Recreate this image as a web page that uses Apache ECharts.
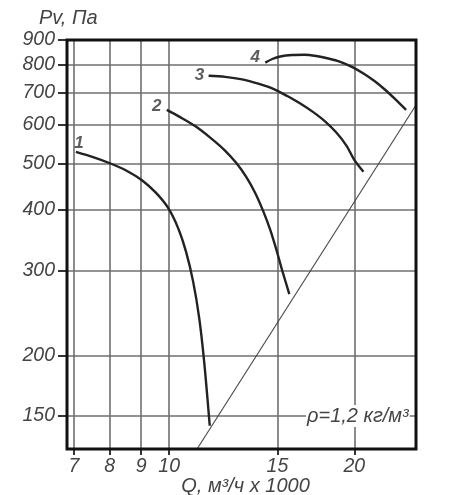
<!DOCTYPE html>
<html><head><meta charset="utf-8">
<script src="https://cdn.jsdelivr.net/npm/echarts@6/dist/echarts.min.js"></script>
<style>html,body{margin:0;padding:0;background:#fff}#c{width:451px;height:495px}</style>
</head><body><div id="c"></div>
<script>
const xTicks = [7, 8, 9, 10, 15, 20];
const yTicks = [150, 200, 300, 400, 500, 600, 700, 800, 900];
const curve1 = [[7.05,528],[7.52,515],[8.01,500],[8.54,482],[9.03,461],[9.52,434],[9.96,404],[10.34,367],[10.65,328],[10.94,284],[11.19,239],[11.40,194],[11.64,143]];
const curve2 = [[9.91,645],[10.42,623],[11.02,597],[11.66,565],[12.29,533],[12.85,501],[13.35,468],[13.80,434],[14.22,398],[14.60,364],[14.94,331],[15.28,299],[15.68,268]];
const curve3 = [[11.59,759],[12.33,755],[13.14,746],[13.96,731],[14.77,713],[15.56,689],[16.34,665],[17.15,638],[17.94,610],[18.70,579],[19.42,544],[20.0,508],[20.70,480]];
const curve4 = [[14.33,808],[14.71,822],[15.16,832],[15.85,838],[16.59,839],[17.34,834],[18.15,824],[18.98,811],[19.86,791],[20.70,767],[21.57,740],[22.47,709],[23.33,678],[24.28,645]];
const systemLine = [[11.1,128],[25.2,660]];
const curveNames = ['1','2','3','4'];

const font = 'Liberation Sans, Arial, sans-serif';
function curveSeries(data) {
  return {
    type: 'line', data: data,
    smooth: 0.3, symbol: 'none', showSymbol: false,
    lineStyle: {color: '#222', width: 2.4}, z: 5
  };
}
function labelSeries(data, name, offset) {
  return {
    type: 'scatter', data: [data[0]], symbolSize: 1, itemStyle: {color: 'rgba(0,0,0,0)'}, z: 6,
    label: {show: true, formatter: name, position: 'inside', offset: offset,
      fontFamily: font, fontStyle: 'italic', fontWeight: 'bold', fontSize: 17, color: '#333'}
  };
}
const chart = echarts.init(document.getElementById('c'));
chart.setOption({
  animation: false,
  backgroundColor: '#fff',
  grid: {left: 67, right: 35, top: 40, bottom: 46, outerBoundsMode: 'none', containLabel: false,
    show: true, borderColor: '#111', borderWidth: 3, backgroundColor: 'transparent', z: 10},
  xAxis: {
    type: 'log', min: 6.82, max: 25.2, logBase: 10,
    axisLine: {show: false},
    axisTick: {show: true, customValues: xTicks, length: 6, inside: false, lineStyle: {color: '#333', width: 2}},
    axisLabel: {customValues: xTicks, margin: 8, fontFamily: font, fontStyle: 'italic', fontSize: 19.5, color: '#444'},
    splitLine: {show: true, lineStyle: {color: '#6f6f6f', width: 1.6}},
    minorTick: {show: false}, minorSplitLine: {show: false},
    name: 'Q, м³/ч x 1000', nameLocation: 'middle', nameGap: 27, nameMoveOverlap: false,
    nameTextStyle: {fontFamily: font, fontStyle: 'italic', fontSize: 20, color: '#444', verticalAlign: 'top', padding: [0,0,0,8]}
  },
  yAxis: {
    type: 'log', min: 128, max: 900, logBase: 10,
    axisLine: {show: false},
    axisTick: {show: true, customValues: yTicks, length: 9, inside: false, lineStyle: {color: '#333', width: 2}},
    axisLabel: {customValues: yTicks, margin: 12, fontFamily: font, fontStyle: 'italic', fontSize: 19.5, color: '#444'},
    splitLine: {show: true, lineStyle: {color: '#6f6f6f', width: 1.6}},
    minorTick: {show: false}, minorSplitLine: {show: false},
    name: 'Pv, Па', nameLocation: 'end', nameGap: 12, nameMoveOverlap: false,
    nameTextStyle: {fontFamily: font, fontStyle: 'italic', fontSize: 20, color: '#444', align: 'left', padding: [0,0,0,-28]}
  },
  graphic: [{
    type: 'text', left: 306, top: 405, z: 20,
    style: {text: 'ρ=1,2 кг/м³', fontFamily: font, fontStyle: 'italic', fontSize: 20, fill: '#444', backgroundColor: '#fff', padding: [1,1]}
  }],
  series: [
    curveSeries(curve1), curveSeries(curve2), curveSeries(curve3), curveSeries(curve4),
    labelSeries(curve1, curveNames[0], [3, -9]),
    labelSeries(curve2, curveNames[1], [-10, -4]),
    labelSeries(curve3, curveNames[2], [-9, 0]),
    labelSeries(curve4, curveNames[3], [-10, -5]),
    {type: 'line', data: systemLine, symbol: 'none', lineStyle: {color: '#444', width: 1.1}, z: 4}
  ]
});
</script></body></html>
